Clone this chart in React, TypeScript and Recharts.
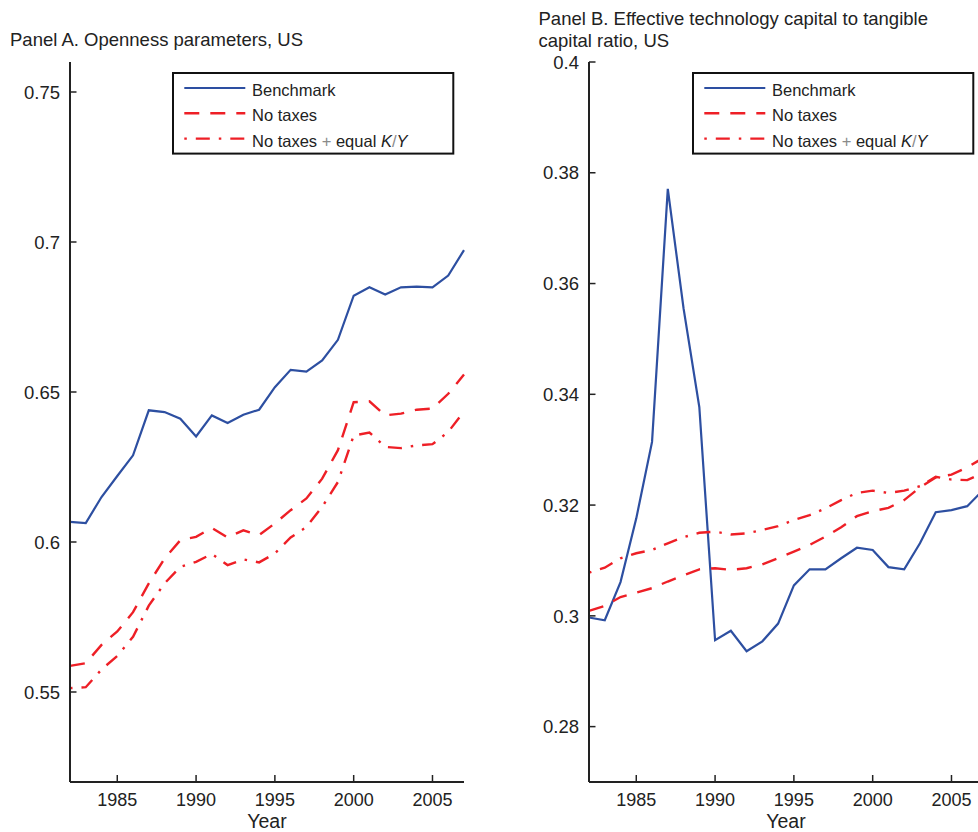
import React from 'react';
import { LineChart, Line, XAxis, YAxis, Legend } from 'recharts';

const years = [
  1982, 1983, 1984, 1985, 1986, 1987, 1988, 1989, 1990, 1991, 1992, 1993, 1994,
  1995, 1996, 1997, 1998, 1999, 2000, 2001, 2002, 2003, 2004, 2005, 2006, 2007,
];
const yearTicks = [1985, 1990, 1995, 2000, 2005];

// Panel A: openness parameters
const opennessBenchmark = [
  0.6067, 0.6063, 0.615, 0.622, 0.6289, 0.6439, 0.6433, 0.6411, 0.6352, 0.6422,
  0.6397, 0.6424, 0.6441, 0.6516, 0.6574, 0.6568, 0.6605, 0.6674, 0.6821, 0.6849,
  0.6825, 0.6849, 0.6851, 0.6849, 0.6888, 0.6973,
];
const opennessNoTaxes = [
  0.5587, 0.5596, 0.5657, 0.5702, 0.5766, 0.5862, 0.5945, 0.6006, 0.6017, 0.6047,
  0.6015, 0.6039, 0.6023, 0.6062, 0.6106, 0.6145, 0.6211, 0.6306, 0.6466, 0.6469,
  0.6422, 0.6428, 0.6441, 0.6445, 0.6494, 0.6558,
];
const opennessEqualKY = [
  0.5513, 0.5516, 0.5575, 0.562, 0.5684, 0.5788, 0.5862, 0.5917, 0.5934, 0.596,
  0.5923, 0.5942, 0.5932, 0.5962, 0.6015, 0.605, 0.6117, 0.62, 0.6355, 0.6365,
  0.6317, 0.6313, 0.6322, 0.6326, 0.6367, 0.6435,
];
const opennessTicks = [0.55, 0.6, 0.65, 0.7, 0.75];

// Panel B: effective technology capital / tangible capital
const ratioBenchmark = [
  0.2997, 0.2992, 0.3061, 0.3176, 0.3314, 0.3771, 0.3555, 0.3377, 0.2956, 0.2973,
  0.2936, 0.2954, 0.2986, 0.3055, 0.3084, 0.3084, 0.3104, 0.3123, 0.3119, 0.3088,
  0.3084, 0.3131, 0.3187, 0.3191, 0.3198, 0.3227,
];
const ratioNoTaxes = [
  0.3009, 0.3018, 0.3034, 0.3042, 0.305, 0.3062, 0.3073, 0.3084, 0.3086, 0.3083,
  0.3086, 0.3093, 0.3104, 0.3116, 0.3128, 0.3143, 0.316, 0.318, 0.3189, 0.3195,
  0.3209, 0.3232, 0.325, 0.3255, 0.3268, 0.3285,
];
const ratioEqualKY = [
  0.3078, 0.3087, 0.3104, 0.3113, 0.3119, 0.3131, 0.3142, 0.315, 0.3152, 0.3147,
  0.3149, 0.3155, 0.3162, 0.3173, 0.3182, 0.3194, 0.3209, 0.3222, 0.3226, 0.3222,
  0.3226, 0.3234, 0.3251, 0.3246, 0.3245, 0.3258,
];
const ratioTicks = [0.28, 0.3, 0.32, 0.34, 0.36, 0.38, 0.4];

const BLUE = '#2d4fa1';
const RED = '#ee1f26';
const INK = '#222';
const FONT = '"Liberation Sans", Arial, Helvetica, sans-serif';

const SERIES = [
  { key: 'benchmark', name: 'Benchmark', color: BLUE, width: 2.2, dash: undefined as string | undefined },
  { key: 'noTaxes', name: 'No taxes', color: RED, width: 2.4, dash: '15 11' },
  { key: 'equalKY', name: 'No taxes + equal K/Y', color: RED, width: 2.4, dash: '2.5 9 14 9' },
];

const toRows = (a: number[], b: number[], c: number[]) =>
  years.map((year, i) => ({ year, benchmark: a[i], noTaxes: b[i], equalKY: c[i] }));

const panelA = toRows(opennessBenchmark, opennessNoTaxes, opennessEqualKY);
const panelB = toRows(ratioBenchmark, ratioNoTaxes, ratioEqualKY);

// inward tick marks, labels outside the axis
const YTick = ({ x, y, payload }: any) => (
  <g>
    <line x1={x} y1={y} x2={x + 6.5} y2={y} stroke={INK} strokeWidth={1.5} />
    <text x={x - 10} y={y} dy="0.36em" textAnchor="end" fontSize={18.5} fill={INK} fontFamily={FONT}>
      {String(payload.value)}
    </text>
  </g>
);

const XTick = ({ x, y, payload }: any) => (
  <g>
    <line x1={x} y1={y} x2={x} y2={y - 7} stroke={INK} strokeWidth={1.5} />
    <text x={x} y={y + 23.5} textAnchor="middle" fontSize={18} fill={INK} fontFamily={FONT}>
      {String(payload.value)}
    </text>
  </g>
);

const YearLabel = ({ viewBox }: any) => (
  <text
    x={viewBox.x + viewBox.width / 2}
    y={viewBox.y + 45.5}
    textAnchor="middle"
    fontSize={19.5}
    fill={INK}
    fontFamily={FONT}
  >
    Year
  </text>
);

const LegendBox = () => (
  <svg width={284} height={84} style={{ display: 'block' }}>
    <rect x={1} y={1} width={280.3} height={80.6} fill="#fff" stroke="#111" strokeWidth={2} />
    {SERIES.map((s, i) => {
      const cy = 16 + i * 25.3;
      return (
        <g key={s.key}>
          <line x1={12.3} x2={73.3} y1={cy} y2={cy} stroke={s.color} strokeWidth={s.width} strokeDasharray={s.dash} />
          <text x={80} y={cy + 2} dy="0.36em" fontSize={16.5} fill={INK} fontFamily={FONT}>
            {s.key === 'equalKY' ? (
              <>
                No taxes <tspan fill="#8a8a8a">+</tspan> equal <tspan fontStyle="italic">K</tspan>
                <tspan fill="#8a8a8a">/</tspan>
                <tspan fontStyle="italic">Y</tspan>
              </>
            ) : (
              s.name
            )}
          </text>
        </g>
      );
    })}
  </svg>
);

const YearLabelWrap = (props: any) => <YearLabel {...props} />;

const Panel = ({
  data,
  domain,
  ticks,
  width,
  marginRight,
  legendLeft,
}: {
  data: any[];
  domain: [number, number];
  ticks: number[];
  width: number;
  marginRight: number;
  legendLeft: number;
}) => (
  <LineChart width={width} height={832} data={data} margin={{ top: 62, right: marginRight, bottom: 0, left: 0 }}>
    <XAxis
      dataKey="year"
      type="number"
      domain={[1982, 2007]}
      ticks={yearTicks}
      height={50}
      tickSize={0}
      tickMargin={0}
      tickLine={false}
      axisLine={{ stroke: INK, strokeWidth: 2 }}
      tick={XTick}
      label={<YearLabelWrap />}
    />
    <YAxis
      type="number"
      domain={domain}
      ticks={ticks}
      width={70}
      tickSize={0}
      tickMargin={0}
      tickLine={false}
      axisLine={{ stroke: INK, strokeWidth: 2 }}
      tick={YTick}
    />
    <Legend
      layout="vertical"
      align="center"
      verticalAlign="middle"
      wrapperStyle={{ left: legendLeft, top: 71.7, width: 284, height: 84 }}
      content={() => <LegendBox />}
    />
    {SERIES.map((s) => (
      <Line
        key={s.key}
        type="linear"
        dataKey={s.key}
        name={s.name}
        stroke={s.color}
        strokeWidth={s.width}
        strokeDasharray={s.dash}
        dot={false}
        activeDot={false}
        isAnimationActive={false}
      />
    ))}
  </LineChart>
);

export default function App() {
  return (
    <div
      style={{
        position: 'fixed',
        left: 0,
        top: 0,
        width: 978,
        height: 832,
        overflow: 'hidden',
        background: '#fff',
        fontFamily: FONT,
      }}
    >
      <div style={{ position: 'absolute', left: 0, top: 0 }}>
        <Panel data={panelA} domain={[0.52, 0.76]} ticks={opennessTicks} width={480} marginRight={16} legendLeft={171.7} />
      </div>
      <div style={{ position: 'absolute', left: 519, top: 0 }}>
        <Panel data={panelB} domain={[0.27, 0.4]} ticks={ratioTicks} width={474} marginRight={10} legendLeft={172.7} />
      </div>
      <svg width={978} height={832} style={{ position: 'absolute', left: 0, top: 0, pointerEvents: 'none' }}>
        <g fontFamily={FONT} fontSize={18.5} fill={INK}>
          <text x={10} y={46}>Panel A. Openness parameters, US</text>
          <text x={538.5} y={24.5}>Panel B. Effective technology capital to tangible</text>
          <text x={538.5} y={46.5}>capital ratio, US</text>
        </g>
      </svg>
    </div>
  );
}
